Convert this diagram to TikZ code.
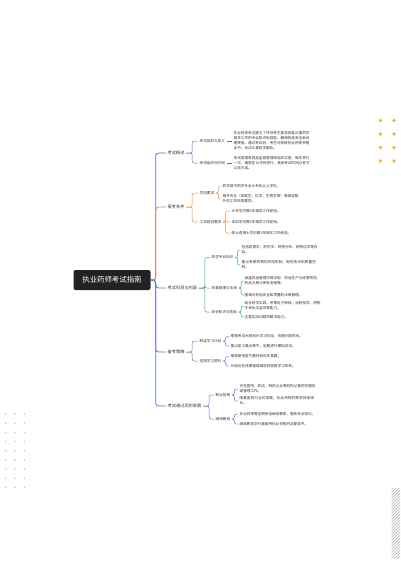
\documentclass[tikz,border=0pt]{standalone}
\usepackage{fontspec}
\setmainfont{Noto Sans CJK SC}
\XeTeXlinebreaklocale "zh"
\XeTeXlinebreakskip=0pt plus 0.5pt
\definecolor{rootgray}{HTML}{222222}
\definecolor{textgray}{HTML}{333333}
\definecolor{ovblue}{HTML}{5C6BD8}
\definecolor{condorange}{HTML}{EC8A3C}
\definecolor{subjgreen}{HTML}{33A57F}
\definecolor{prepurple}{HTML}{8A66CC}
\definecolor{devblue}{HTML}{4F78D8}
\definecolor{dotyellow}{HTML}{F4B829}
\definecolor{dotgray}{HTML}{C9C9C9}
\definecolor{hatchgray}{HTML}{BDBDBD}
\tikzset{
  rootbox/.style={fill=rootgray, rounded corners=2pt, text=white, font=\fontsize{7.4}{8}\selectfont, minimum width=77pt, minimum height=20pt, inner sep=0pt},
  topic/.style={anchor=west, text=textgray, font=\fontsize{4.2}{5}\selectfont, inner sep=1.5pt},
  subtopic/.style={anchor=west, text=textgray, font=\fontsize{3.6}{5}\selectfont, inner sep=1.5pt},
  leaf/.style={anchor=west, text=textgray, font=\fontsize{3.6}{5}\selectfont, text width=76pt, align=left, inner sep=1.5pt},
  link/.style={line width=0.8pt, rounded corners=3pt},
  twig/.style={line width=0.5pt, rounded corners=2pt},
}
\begin{document}
\begin{tikzpicture}[x=1pt,y=-1pt]
  \useasboundingbox (0,0) rectangle (400,566);
  % decorations
  \foreach \x in {380.5,394}
    \foreach \y in {120.5,134,147.5,161}
      \fill[dotyellow] (\x,\y) circle (1.9pt);
  \foreach \x in {5.7,15,24.3}
    \foreach \i in {0,...,8}
      \fill[dotgray] (\x,414+9.17*\i) circle (0.9pt);
  \begin{scope}
    \clip (391.5,488) rectangle (400,558);
    \foreach \i in {0,...,27}
      \draw[hatchgray, line width=0.7pt] (386,492+3*\i) -- ++(16,-16);
  \end{scope}

  \node[rootbox] (root) at (112,280) {执业药师考试指南};

  % topics
  \node[topic] (gaishu) at (166,153) {考试概述};
  \node[topic] (tiaojian) at (166,207) {报考条件};
  \node[topic] (kemu) at (166,288) {考试科目与内容};
  \node[topic] (celve) at (166,352) {备考策略};
  \node[topic] (fazhan) at (166,406) {考试通过后的发展};

  \draw[link, ovblue] (root.east) -- ++(5,0) |- (gaishu.west);
  \draw[link, condorange] (root.east) -- ++(5,0) |- (tiaojian.west);
  \draw[link, subjgreen] (root.east) -- ++(5,0) |- (kemu.west);
  \draw[link, prepurple] (root.east) -- ++(5,0) |- (celve.west);
  \draw[link, devblue] (root.east) -- ++(5,0) |- (fazhan.west);

  % 考试概述
  \node[subtopic] (mudi) at (198,141) {考试目的与意义};
  \node[subtopic] (zuzhi) at (198,163) {考试组织与时间};
  \node[leaf] (mudiA) at (232,141) {执业药师考试是为了评估考生是否具备从事药学相关工作的专业知识和技能，确保药品安全和合理使用。通过考试后，考生可获得执业药师资格证书，合法从事药学服务。};
  \node[leaf] (zuzhiA) at (232,163) {考试由国家药品监督管理局组织实施，每年举行一次，通常在10月份进行，具体考试时间以官方公告为准。};
  \draw[twig, ovblue] (gaishu.east) -- ++(6,0) |- (mudi.west);
  \draw[twig, ovblue] (gaishu.east) -- ++(6,0) |- (zuzhi.west);
  \draw[twig, ovblue] (mudi.east) -- (mudiA.west);
  \draw[twig, ovblue] (zuzhi.east) -- (zuzhiA.west);

  % 报考条件
  \node[subtopic] (xueli) at (198,193) {学历要求};
  \node[subtopic] (jingyan) at (198,222) {工作经验要求};
  \node[leaf] (xueliA) at (221,186) {药学或中药学专业大专及以上学历。};
  \node[leaf] (xueliB) at (221,199) {相关专业（如医学、化学、生物学等）需满足额外的工作年限要求。};
  \node[leaf] (jingyanA) at (230,211) {大专学历需5年相关工作经验。};
  \node[leaf] (jingyanB) at (230,222) {本科学历需3年相关工作经验。};
  \node[leaf] (jingyanC) at (230,233) {硕士或博士学历需1年相关工作经验。};
  \draw[twig, condorange] (tiaojian.east) -- ++(6,0) |- (xueli.west);
  \draw[twig, condorange] (tiaojian.east) -- ++(6,0) |- (jingyan.west);
  \foreach \n in {xueliA,xueliB}
    \draw[twig, condorange] (xueli.east) -- ++(2.5,0) |- (\n.west);
  \foreach \n in {jingyanA,jingyanB,jingyanC}
    \draw[twig, condorange] (jingyan.east) -- ++(2.5,0) |- (\n.west);

  % 考试科目与内容
  \node[subtopic] (zhuanye) at (210,257.5) {药学专业知识};
  \node[subtopic] (yaoshi) at (210,288) {药事管理与法规};
  \node[subtopic] (zonghe) at (210,312) {综合知识与技能};
  \node[leaf] (zhuanyeA) at (240,250) {包括药理学、药剂学、药物分析、药物化学等内容。};
  \node[leaf] (zhuanyeB) at (240,265) {重点考察药物的作用机制、制剂技术和质量控制。};
  \node[leaf] (yaoshiA) at (243,281) {涵盖药品管理法律法规、药品生产与经营规范、药品注册与审批流程等。};
  \node[leaf] (yaoshiB) at (243,295) {强调对药品安全和质量的法律管理。};
  \node[leaf] (zongheA) at (243,306) {结合药学实践，考察处方审核、用药指导、药物不良反应监测等能力。};
  \node[leaf] (zongheB) at (243,317) {注重实际问题的解决能力。};
  \foreach \n in {zhuanye,yaoshi,zonghe}
    \draw[twig, subjgreen] (kemu.east) -- ++(6,0) |- (\n.west);
  \foreach \n in {zhuanyeA,zhuanyeB}
    \draw[twig, subjgreen] (zhuanye.east) -- ++(2.5,0) |- (\n.west);
  \foreach \n in {yaoshiA,yaoshiB}
    \draw[twig, subjgreen] (yaoshi.east) -- ++(2.5,0) |- (\n.west);
  \foreach \n in {zongheA,zongheB}
    \draw[twig, subjgreen] (zonghe.east) -- ++(2.5,0) |- (\n.west);

  % 备考策略
  \node[subtopic] (jihua) at (198,341) {制定学习计划};
  \node[subtopic] (ziliao) at (198,361) {选择学习资料};
  \node[leaf] (jihuaA) at (229,336.5) {根据考试大纲划分学习阶段，合理分配时间。};
  \node[leaf] (jihuaB) at (229,346) {重点复习难点章节，定期进行模拟测试。};
  \node[leaf] (ziliaoA) at (229,356.5) {推荐使用官方教材和历年真题。};
  \node[leaf] (ziliaoB) at (229,366) {可结合在线课程或辅导班提高学习效率。};
  \draw[twig, prepurple] (celve.east) -- ++(6,0) |- (jihua.west);
  \draw[twig, prepurple] (celve.east) -- ++(6,0) |- (ziliao.west);
  \foreach \n in {jihuaA,jihuaB}
    \draw[twig, prepurple] (jihua.east) -- ++(2.5,0) |- (\n.west);
  \foreach \n in {ziliaoA,ziliaoB}
    \draw[twig, prepurple] (ziliao.east) -- ++(2.5,0) |- (\n.west);

  % 考试通过后的发展
  \node[subtopic] (qianjing) at (214,395) {职业前景};
  \node[subtopic] (jiaoyu) at (214,419) {继续教育};
  \node[leaf] (qianjingA) at (238,389) {可在医院、药店、制药企业等机构从事药学服务或管理工作。};
  \node[leaf] (qianjingB) at (238,401) {随着医药行业的发展，执业药师的需求持续增长。};
  \node[leaf] (jiaoyuA) at (238,414) {执业药师需定期参加继续教育，更新专业知识。};
  \node[leaf] (jiaoyuB) at (238,424) {继续教育学分是维持执业资格的必要条件。};
  \draw[twig, devblue] (fazhan.east) -- ++(6,0) |- (qianjing.west);
  \draw[twig, devblue] (fazhan.east) -- ++(6,0) |- (jiaoyu.west);
  \foreach \n in {qianjingA,qianjingB}
    \draw[twig, devblue] (qianjing.east) -- ++(2.5,0) |- (\n.west);
  \foreach \n in {jiaoyuA,jiaoyuB}
    \draw[twig, devblue] (jiaoyu.east) -- ++(2.5,0) |- (\n.west);
\end{tikzpicture}
\end{document}
